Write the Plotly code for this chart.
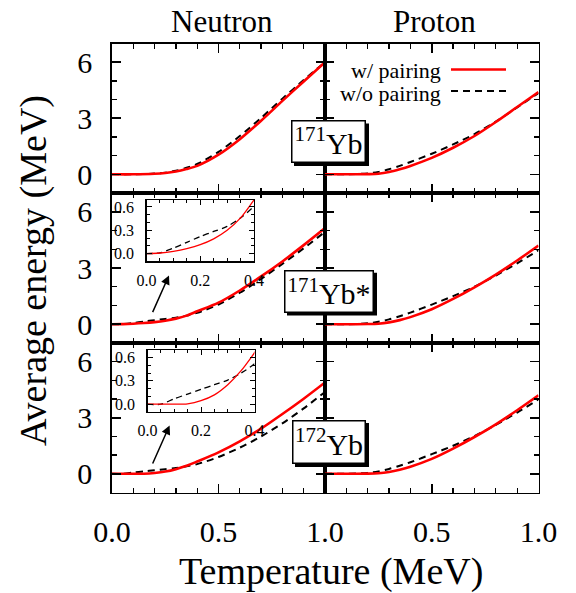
import plotly.graph_objects as go

# ---------------- data ----------------
T = [0.0, 0.1, 0.2, 0.25, 0.3, 0.35, 0.4, 0.5, 0.6, 0.7, 0.8, 0.9, 1.0]
T_fine = [0.0, 0.05, 0.1, 0.15, 0.2, 0.25, 0.3, 0.35, 0.4, 0.5, 0.6, 0.7, 0.8, 0.9, 1.0]

# Row 1: 171Yb
n1_pair = [0, 0, 0.03, 0.07, 0.15, 0.28, 0.45, 1.05, 1.88, 2.87, 3.93, 4.97, 6.0]
n1_nopair = [0, 0, 0.04, 0.09, 0.19, 0.35, 0.55, 1.2, 2.05, 3.02, 4.05, 5.04, 6.0]
p1_pair = [0, 0, 0.01, 0.03, 0.12, 0.27, 0.45, 0.88, 1.42, 2.05, 2.8, 3.6, 4.4]
p1_nopair = [0, 0, 0.05, 0.13, 0.27, 0.45, 0.66, 1.1, 1.6, 2.15, 2.82, 3.58, 4.35]

# Row 2: 171Yb*
n2_pair = [0, 0.008, 0.03, 0.065, 0.115, 0.19, 0.3, 0.46, 0.69, 1.15, 1.8, 2.55, 3.35, 4.22, 5.13]
n2_nopair = [0, 0.01, 0.07, 0.145, 0.22, 0.285, 0.35, 0.46, 0.61, 1.05, 1.68, 2.42, 3.22, 4.05, 4.93]
p2_pair = [0, 0, 0.01, 0.03, 0.1, 0.22, 0.38, 0.8, 1.35, 1.97, 2.65, 3.4, 4.2]
p2_nopair = [0, 0, 0.05, 0.13, 0.26, 0.43, 0.62, 1.05, 1.5, 2.0, 2.6, 3.25, 3.95]

# Row 3: 172Yb
n3_pair = [0, 0, 0, 0.005, 0.045, 0.12, 0.25, 0.43, 0.66, 1.15, 1.74, 2.42, 3.2, 4.02, 4.89]
n3_nopair = [0.0, 0.0, 0.07, 0.13, 0.19, 0.25, 0.31, 0.4, 0.52, 0.9, 1.4, 2.0, 2.7, 3.5, 4.38]
p3_pair = [0, 0, 0.01, 0.03, 0.1, 0.22, 0.38, 0.8, 1.35, 1.97, 2.65, 3.4, 4.2]
p3_nopair = [0, 0, 0.05, 0.13, 0.26, 0.43, 0.62, 1.05, 1.5, 2.02, 2.62, 3.28, 3.98]

row_labels = ["<sup>171</sup>Yb", "<sup>171</sup>Yb*", "<sup>172</sup>Yb"]
col_titles = ["Neutron", "Proton"]
x_ticks = [0.0, 0.5, 1.0]
x_ticktext_left = ["0.0", "0.5", "1.0"]
x_ticktext_right = ["", "0.5", "1.0"]
y_ticks = [0, 3, 6]
inset_x_ticks = [0.0, 0.2, 0.4]
inset_y_ticks = [0.0, 0.3, 0.6]

# ---------------- layout geometry ----------------
W, H = 576, 593
FONT = "Liberation Serif"
RED = "#ff0000"


def px_x(p):
    return p / W


def px_y(p):
    return 1 - p / H


x_left = [px_x(112), px_x(325)]
x_right = [px_x(325), px_x(538.5)]
rows_y = [[px_y(193), px_y(43.5)], [px_y(343), px_y(193)], [px_y(492.5), px_y(343)]]

fig = go.Figure()

data = [
    (T, n1_pair, n1_nopair, T, p1_pair, p1_nopair),
    (T_fine, n2_pair, n2_nopair, T, p2_pair, p2_nopair),
    (T_fine, n3_pair, n3_nopair, T, p3_pair, p3_nopair),
]

layout = dict(
    template="none",
    width=W, height=H,
    margin=dict(l=0, r=0, t=0, b=0, pad=0, autoexpand=False),
    paper_bgcolor="white", plot_bgcolor="white",
    showlegend=False,
    font=dict(family=FONT, color="black"),
)

axis_common = dict(
    showline=True, linecolor="black", linewidth=1.8, mirror="ticks",
    ticks="inside", tickcolor="black", tickwidth=1.6, showgrid=False,
    zeroline=False, automargin=False,
)

idx = 0
for r in range(3):
    tn, npair, nnopair, tp, ppair, pnopair = data[r]
    for c in range(2):
        idx += 1
        xa = "x" if idx == 1 else f"x{idx}"
        ya = "y" if idx == 1 else f"y{idx}"
        tt = tn if c == 0 else tp
        yp = npair if c == 0 else ppair
        yn = nnopair if c == 0 else pnopair
        fig.add_trace(go.Scatter(x=tt, y=yn, mode="lines", xaxis=xa, yaxis=ya,
                                 line=dict(color="black", width=2, dash="7px,5px",
                                           shape="spline", smoothing=0.8),
                                 name="w/o pairing"))
        fig.add_trace(go.Scatter(x=tt, y=yp, mode="lines", xaxis=xa, yaxis=ya,
                                 line=dict(color=RED, width=2.6, shape="spline", smoothing=0.8),
                                 name="w/ pairing"))
        xkey = "xaxis" if idx == 1 else f"xaxis{idx}"
        ykey = "yaxis" if idx == 1 else f"yaxis{idx}"
        layout[xkey] = dict(
            axis_common, domain=x_left if c == 0 else x_right, anchor=ya,
            range=[0, 1], tickvals=x_ticks,
            ticktext=x_ticktext_left if c == 0 else x_ticktext_right,
            showticklabels=(r == 2), ticklen=9, ticklabelstandoff=12,
            minor=dict(ticks="inside", dtick=0.1, ticklen=5, tickcolor="black", tickwidth=1.3),
            tickfont=dict(size=30, family=FONT),
        )
        layout[ykey] = dict(
            axis_common, domain=rows_y[r], anchor=xa,
            range=[-1, 7], tickvals=y_ticks, ticktext=[str(v) for v in y_ticks],
            showticklabels=(c == 0), ticklen=9, ticklabelstandoff=12,
            minor=dict(ticks="inside", dtick=1, ticklen=5, tickcolor="black", tickwidth=1.3),
            tickfont=dict(size=30, family=FONT),
        )

# insets (rows 2 and 3, neutron)
inset_x = [[px_x(146.5), px_x(254)], [px_x(147.5), px_x(254.5)]]
inset_y = [[px_y(261.4), px_y(200)], [px_y(412), px_y(350.4)]]
for k, (tn, npair, nnopair) in enumerate([(T_fine, n2_pair, n2_nopair), (T_fine, n3_pair, n3_nopair)]):
    idx += 1
    xa, ya = f"x{idx}", f"y{idx}"
    fig.add_trace(go.Scatter(x=tn, y=nnopair, mode="lines", xaxis=xa, yaxis=ya,
                             line=dict(color="black", width=1.3, dash="6px,4px",
                                       shape="spline", smoothing=0.8)))
    fig.add_trace(go.Scatter(x=tn, y=npair, mode="lines", xaxis=xa, yaxis=ya,
                             line=dict(color=RED, width=1.3, shape="spline", smoothing=0.8)))
    layout[f"xaxis{idx}"] = dict(
        axis_common, linewidth=1.2, tickwidth=1,
        domain=inset_x[k], anchor=ya, range=[0, 0.4],
        tickvals=inset_x_ticks, ticktext=["0.0", "0.2", "0.4"], ticklen=5,
        ticklabelstandoff=4,
        minor=dict(ticks="inside", dtick=0.05, ticklen=3, tickcolor="black", tickwidth=1),
        tickfont=dict(size=16, family=FONT),
    )
    layout[f"yaxis{idx}"] = dict(
        axis_common, linewidth=1.2, tickwidth=1,
        domain=inset_y[k], anchor=xa, range=[-0.1, 0.69],
        tickvals=inset_y_ticks, ticktext=["0.0", "0.3", "0.6"], ticklen=5,
        ticklabelstandoff=8,
        minor=dict(ticks="inside", dtick=0.1, ticklen=3, tickcolor="black", tickwidth=1),
        tickfont=dict(size=16, family=FONT),
    )

fig.update_layout(**layout)


def txt(text, x, y, size, **kw):
    d = dict(text=text, x=px_x(x), y=px_y(y), xref="paper", yref="paper",
             xanchor="center", yanchor="middle", showarrow=False,
             font=dict(size=size, family=FONT, color="black"))
    d.update(kw)
    return d


ann = []
shapes = []
# column titles
ann.append(txt(col_titles[0], 222, 21, 31))
ann.append(txt(col_titles[1], 434.5, 21, 31))
# axis titles
ann.append(txt("Temperature (MeV)", 331, 571, 38))
ann.append(txt("Average energy (MeV)", 33, 271, 38, textangle=-90))

# row labels in boxes with a drop shadow (box pixel extents: x0, x1, y0, y1)
label_boxes = [(291, 366, 120.5, 163), (284, 374, 269.7, 312.5), (292, 366, 420, 464)]
for lbl, (bx0, bx1, by0, by1) in zip(row_labels, label_boxes):
    shapes.append(dict(type="rect", xref="paper", yref="paper", layer="above",
                       x0=px_x(bx0 + 3), x1=px_x(bx1 + 3), y0=px_y(by1 + 3), y1=px_y(by0 + 3),
                       fillcolor="black", line=dict(width=0)))
    ann.append(txt(lbl, (bx0 + bx1) / 2, (by0 + by1) / 2, 30, bgcolor="white",
                   bordercolor="black", borderwidth=1.5, borderpad=0,
                   width=bx1 - bx0 - 3, height=by1 - by0 - 3, align="center", valign="middle"))

# legend
ann.append(txt("w/ pairing", 443, 70.5, 22, xanchor="right"))
ann.append(txt("w/o pairing", 443, 93.5, 22, xanchor="right"))

# arrows
for head, tail in [((169, 275.4), (152, 313.6)), ((169.6, 425.4), (152, 465))]:
    ann.append(dict(text="", x=px_x(head[0]), y=px_y(head[1]), xref="paper", yref="paper",
                    ax=tail[0] - head[0], ay=tail[1] - head[1], axref="pixel", ayref="pixel",
                    showarrow=True, arrowhead=2, arrowsize=1.2, arrowwidth=1.5, arrowcolor="black"))

shapes += [
    dict(type="line", xref="paper", yref="paper", x0=px_x(451), x1=px_x(506),
         y0=px_y(69.5), y1=px_y(69.5), line=dict(color=RED, width=2.6)),
    dict(type="line", xref="paper", yref="paper", x0=px_x(451), x1=px_x(506),
         y0=px_y(91), y1=px_y(91), line=dict(color="black", width=2, dash="7px,5px")),
]
fig.update_layout(annotations=ann, shapes=shapes)

fig.write_html(
    "out.html",
    config={"displayModeBar": False, "staticPlot": True},
    post_script="document.body.style.margin='0';document.body.style.padding='0';"
                "document.documentElement.style.overflow='hidden';",
)
